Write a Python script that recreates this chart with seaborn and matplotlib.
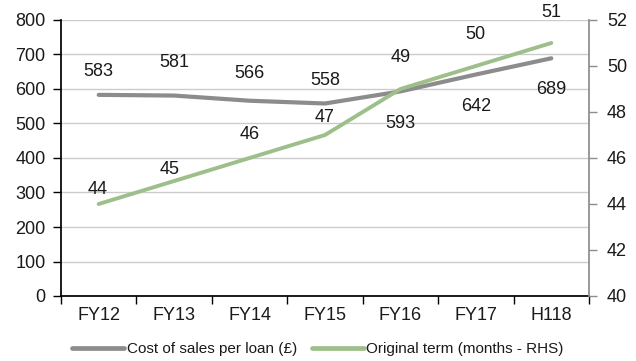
import matplotlib
matplotlib.use("Agg")
import matplotlib.pyplot as plt
import seaborn as sns
import numpy as np
import pandas as pd

# Data
periods = ["FY12", "FY13", "FY14", "FY15", "FY16", "FY17", "H118"]
cost_per_loan = [583, 581, 566, 558, 593, 642, 689]
original_term = [44, 45, 46, 47, 49, 50, 51]

# Label placement (pixel offsets from each point)
cost_label_dy = [23, 33, 27, 23, -32, -32, -31]
term_label_dy = [14, 11, 23, 17, 31, 31, 30]
term_label_dx = [-1, -5, 0, 0, 0, 0, 0]

sns.set_theme(style="white")
plt.rcParams["font.family"] = ["Liberation Sans", "DejaVu Sans"]

GRAY = "#8c8c8c"
GREEN = "#9dbf8a"
TEXT = "#1a1a1a"
FS = 13

df = pd.DataFrame({"x": np.arange(len(periods)),
                   "cost": cost_per_loan,
                   "term": original_term})

fig = plt.figure(figsize=(6.36, 3.61), dpi=100)
ax = fig.add_axes([61 / 636, 65 / 361, 528 / 636, 276 / 361])
ax2 = ax.twinx()

sns.lineplot(data=df, x="x", y="cost", ax=ax, color=GRAY, linewidth=3.0,
             solid_capstyle="round", label="Cost of sales per loan (£)", legend=False)
sns.lineplot(data=df, x="x", y="term", ax=ax2, color=GREEN, linewidth=2.8,
             solid_capstyle="round", label="Original term (months - RHS)", legend=False)

# Left axis
ax.set_ylim(0, 800)
ax.set_yticks(range(0, 801, 100))
ax.set_xlim(-0.5, len(periods) - 0.5)
ax.set_xticks(np.arange(-0.5, len(periods), 1.0))
ax.set_xticklabels([])
ax.set_xticks(np.arange(len(periods)), minor=True)
ax.set_xticklabels(periods, minor=True)
ax.tick_params(axis="x", which="major", length=6, width=1, color="black", direction="out", bottom=True)
ax.tick_params(axis="x", which="minor", length=0, pad=8, labelsize=FS, labelcolor=TEXT)
ax.tick_params(axis="y", length=6, width=1, color="black", direction="out", left=True,
               labelsize=FS, labelcolor=TEXT, pad=5)
ax.grid(axis="y", color="#cccccc", linewidth=1)
ax.set_axisbelow(True)
ax.set_xlabel("")
ax.set_ylabel("")

# Right axis
ax2.set_ylim(40, 52)
ax2.set_yticks(range(40, 53, 2))
ax2.tick_params(axis="y", length=6, width=1, color="#8c8c8c", direction="out", right=True,
                labelsize=FS, labelcolor=TEXT, pad=7)
ax2.set_ylabel("")
ax2.grid(False)

for a in (ax, ax2):
    a.spines["top"].set_visible(False)
ax.spines["left"].set_color("black")
ax.spines["bottom"].set_color("black")
ax.spines["right"].set_visible(False)
ax2.spines["left"].set_visible(False)
ax2.spines["bottom"].set_visible(False)
ax2.spines["right"].set_color("#8c8c8c")

# Value labels
for i, v in enumerate(cost_per_loan):
    ax2.annotate(f"{v}", xy=(i, v), xycoords=ax.transData,
                 xytext=(0, cost_label_dy[i]), textcoords="offset pixels",
                 ha="center", va="center", fontsize=FS, color=TEXT)
for i, v in enumerate(original_term):
    ax2.annotate(f"{v}", xy=(i, v), xytext=(term_label_dx[i], term_label_dy[i]),
                 textcoords="offset pixels", ha="center", va="center",
                 fontsize=FS, color=TEXT)

# Legend
h1, l1 = ax.get_legend_handles_labels()
h2, l2 = ax2.get_legend_handles_labels()
leg = fig.legend(h1 + h2, l1 + l2, loc="center", bbox_to_anchor=(0.5, 12 / 361), ncol=2,
                 frameon=False, fontsize=11, handlelength=3.4, handletextpad=0.15,
                 columnspacing=1.0)
for line in leg.get_lines():
    line.set_linewidth(3.4)
    line.set_solid_capstyle("round")
for t in leg.get_texts():
    t.set_color(TEXT)

fig.savefig("out.png", dpi=100)
